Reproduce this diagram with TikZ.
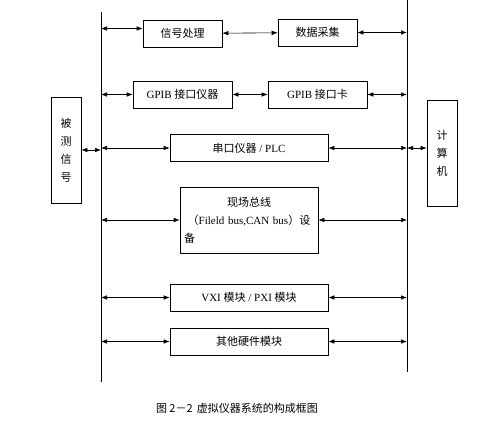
\documentclass[tikz,border=0pt]{standalone}
\usepackage{fontspec}
\setmainfont{Liberation Serif}
\newfontfamily\cjk{Noto Sans CJK SC}
\usepackage{tikz}
\usetikzlibrary{positioning, arrows.meta, calc}

\begin{document}
\begin{tikzpicture}[x=1pt, y=-1pt,
    blockbox/.style={draw, line width=0.6pt, minimum width=#1, minimum height=27pt, inner sep=2pt, font=\fontsize{11}{13}\selectfont},
    sidebox/.style={draw, line width=0.6pt, minimum width=30pt, minimum height=106pt, inner sep=0pt, align=center, font=\fontsize{11}{18}\selectfont\cjk},
    arr/.style={{Latex[length=6pt,width=4.5pt]}-{Latex[length=6pt,width=4.5pt]}, line width=0.6pt},
    bus/.style={line width=0.7pt}
]
\useasboundingbox (0,0) rectangle (500,430);

% the two buses
\coordinate (lbtop) at (101, 12);
\coordinate (lbbot) at (101, 382);
\coordinate (rbtop) at (407, 0);
\coordinate (rbbot) at (407, 372);
\draw[bus] (lbtop) -- (lbbot);
\draw[bus] (rbtop) -- (rbbot);

\node[sidebox] (meas) at (66, 150) {被\\测\\信\\号};
\node[sidebox] (comp) at (442, 153) {计\\算\\机};

\node[blockbox=79pt] (proc) at (182.5, 33.5) {\cjk 信号处理};
\node[blockbox=79pt] (daq) at (317.5, 32.5) {\cjk 数据采集};
\node[blockbox=99pt] (gpibi) at (182.5, 94.5) {GPIB {\cjk 接口仪器}};
\node[blockbox=99pt] (gpibc) at (317.5, 94.5) {GPIB {\cjk 接口卡}};
\node[blockbox=158pt] (serial) at (249, 148) {{\cjk 串口仪器} / PLC};
\node[blockbox=138pt, minimum height=66pt, text width=130pt, inner sep=3pt, align=center,
    font=\fontsize{11}{18}\selectfont] (field) at (249, 220)
    {{\cjk 现场总线}\\{\cjk （}Fileld bus,CAN bus{\cjk ）设}\\{\cjk 备}\hfill\null};
\node[blockbox=158pt] (vxi) at (249, 297.5) {VXI {\cjk 模块} / PXI {\cjk 模块}};
\node[blockbox=158pt] (other) at (249, 341.5) {\cjk 其他硬件模块};

\draw[arr] ([yshift=5pt]proc.west -| lbtop) -- ([yshift=5pt]proc.west);
\draw[arr] (proc) -- (daq);
\draw[arr] (daq.east) -- (daq.east -| rbtop);
\draw[arr] (gpibi.west -| lbtop) -- (gpibi.west);
\draw[arr] (gpibi) -- (gpibc);
\draw[arr] (gpibc.east) -- (gpibc.east -| rbtop);
\draw[arr] (meas.east) -- (meas.east -| lbtop);
\draw[arr] (serial.west -| lbtop) -- (serial.west);
\draw[arr] (serial.east) -- (serial.east -| rbtop);
\draw[arr] (serial.east -| rbtop) -- (comp.west |- serial.east);
\foreach \b in {field, vxi, other} {
    \draw[arr] (\b.west -| lbtop) -- (\b.west);
    \draw[arr] (\b.east) -- (\b.east -| rbtop);
}

\node[font=\fontsize{11}{13}\selectfont\cjk] (cap) at (237, 408) {图 2－2\, 虚拟仪器系统的构成框图};

\end{tikzpicture}
\end{document}
